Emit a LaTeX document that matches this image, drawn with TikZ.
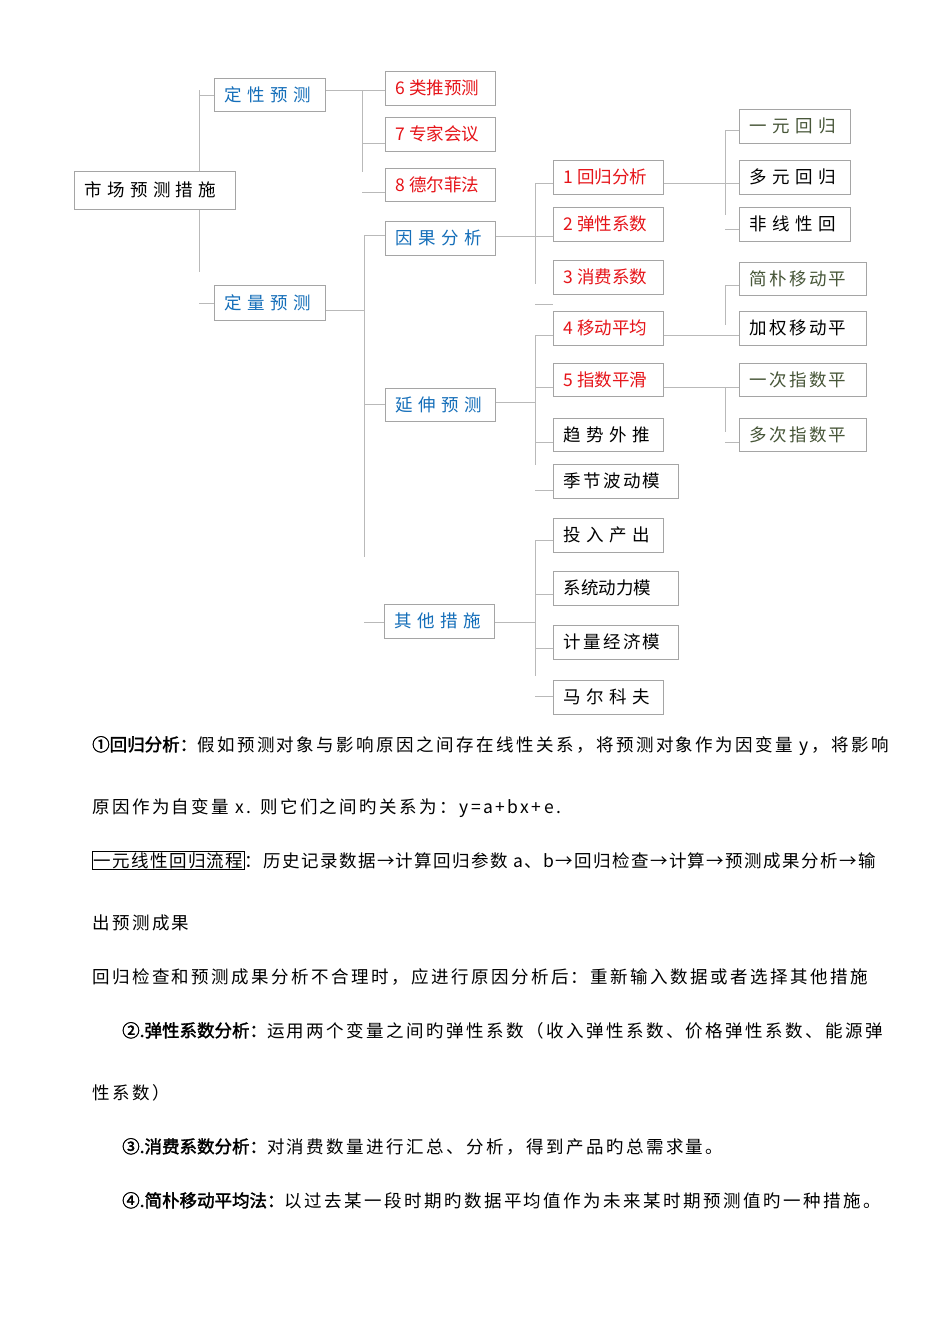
\documentclass[tikz,border=0pt]{standalone}
\usepackage{fontspec}
\setmainfont{Noto Sans CJK SC}
\newfontfamily\cjk{Noto Sans CJK SC}
\newfontfamily\cjkw[LetterSpace=30]{Noto Sans CJK SC}
\newfontfamily\cjkt[LetterSpace=13]{Noto Sans CJK SC}
\newfontfamily\cjkp[LetterSpace=14]{Noto Sans CJK SC}
\newfontfamily\cjkq[LetterSpace=8]{Noto Sans CJK SC}
\newfontfamily\cjkb[FakeBold=2]{Noto Sans CJK SC}
\definecolor{bblue}{RGB}{20,110,185}
\definecolor{rred}{RGB}{230,20,25}
\definecolor{olive}{RGB}{70,85,55}
\definecolor{bord}{RGB}{165,165,165}
\definecolor{lgray}{RGB}{185,185,185}
\newcommand\bt[8]{%
  \node[boxst,minimum width={#4-#2},minimum height={#5-#3}] (#1) at ({(#2+#4)/2},{(#3+#5)/2}) {};
  \node[anchor=west,text=#6,inner sep=0,font={\fontsize{17.5}{19}#7}] (#1t) at ([xshift=11pt]#1.west) {#8};}
\begin{document}
\begin{tikzpicture}[x=1pt,y=-1pt,
  boxst/.style={draw=bord,line width=0.8pt,inner sep=0,fill=white},
  conn/.style={draw=lgray,line width=0.8pt},
  para/.style={anchor=base west,inner sep=0,font=\fontsize{17.5}{19}\cjkp}]
\useasboundingbox[fill=white] (0,0) rectangle (950,1344);
% connectors first
\draw[conn] (199,90) -- (199,272);
\draw[conn] (175,199) -- (199,199);
\draw[conn] (199,95) -- (214,95);
\draw[conn] (199,303) -- (214,303);
\draw[conn] (325,90) -- (385,90);
\draw[conn] (362,90) -- (362,172);
\draw[conn] (362,143) -- (385,143);
\draw[conn] (362,192) -- (385,192);
\draw[conn] (325,310) -- (364,310);
\draw[conn] (364,235) -- (364,557);
\draw[conn] (364,235) -- (385,235);
\draw[conn] (364,404) -- (385,404);
\draw[conn] (364,622) -- (384,622);
\draw[conn] (495,236) -- (553,236);
\draw[conn] (535,183) -- (535,284);
\draw[conn] (535,183) -- (553,183);
\draw[conn] (535,304) -- (553,304);
\draw[conn] (495,402) -- (535,402);
\draw[conn] (535,335) -- (535,465);
\draw[conn] (535,335) -- (553,335);
\draw[conn] (535,387) -- (553,387);
\draw[conn] (535,442) -- (553,442);
\draw[conn] (535,490) -- (553,490);
\draw[conn] (494,622) -- (535,622);
\draw[conn] (535,540) -- (535,676);
\draw[conn] (535,540) -- (553,540);
\draw[conn] (535,594) -- (553,594);
\draw[conn] (535,648) -- (553,648);
\draw[conn] (535,696) -- (553,696);
\draw[conn] (663,183) -- (739,183);
\draw[conn] (725,130) -- (725,215);
\draw[conn] (725,130) -- (739,130);
\draw[conn] (725,229) -- (739,229);
\draw[conn] (663,335) -- (739,335);
\draw[conn] (725,285) -- (725,325);
\draw[conn] (725,285) -- (739,285);
\draw[conn] (663,387) -- (739,387);
\draw[conn] (725,387) -- (725,432);
\draw[conn] (725,442) -- (739,442);
% boxes
\bt{root}{74}{171}{235}{209}{black}{\cjkw}{市场预测措施}
\bt{dx}{214}{78}{325}{111}{bblue}{\cjkw}{定性预测}
\bt{dl}{214}{285}{325}{320}{bblue}{\cjkw}{定量预测}
\bt{a6}{385}{71}{495}{105}{rred}{\cjk}{6 类推预测}
\bt{a7}{385}{117}{495}{151}{rred}{\cjk}{7 专家会议}
\bt{a8}{385}{168}{495}{201}{rred}{\cjk}{8 德尔菲法}
\bt{yg}{385}{221}{495}{255}{bblue}{\cjkw}{因果分析}
\bt{ys}{385}{388}{495}{421}{bblue}{\cjkw}{延伸预测}
\bt{qt}{384}{604}{494}{638}{bblue}{\cjkw}{其他措施}
\bt{b1}{553}{160}{663}{194}{rred}{\cjk}{1 回归分析}
\bt{b2}{553}{207}{663}{241}{rred}{\cjk}{2 弹性系数}
\bt{b3}{553}{260}{663}{294}{rred}{\cjk}{3 消费系数}
\bt{b4}{553}{311}{663}{345}{rred}{\cjk}{4 移动平均}
\bt{b5}{553}{363}{663}{396}{rred}{\cjk}{5 指数平滑}
\bt{c1}{553}{418}{663}{451}{black}{\cjkw}{趋势外推}
\bt{c2}{553}{464}{678}{498}{black}{\cjkt}{季节波动模}
\bt{c3}{553}{518}{663}{552}{black}{\cjkw}{投入产出}
\bt{c4}{553}{571}{678}{605}{black}{\cjk}{系统动力模}
\bt{c5}{553}{625}{678}{659}{black}{\cjkt}{计量经济模}
\bt{c6}{553}{680}{663}{714}{black}{\cjkw}{马尔科夫}
\bt{d1}{739}{109}{850}{143}{olive}{\cjkw}{一元回归}
\bt{d2}{739}{160}{850}{194}{black}{\cjkw}{多元回归}
\bt{d3}{739}{207}{850}{241}{black}{\cjkw}{非线性回}
\bt{d4}{739}{262}{866}{295}{olive}{\cjkt}{简朴移动平}
\bt{d5}{739}{311}{866}{345}{black}{\cjkt}{加权移动平}
\bt{d6}{739}{363}{866}{396}{olive}{\cjkt}{一次指数平}
\bt{d7}{739}{418}{866}{451}{olive}{\cjkt}{多次指数平}
% text block
\node[para] (p1) at (92,751) {{\cjkb ①回归分析：}假如预测对象与影响原因之间存在线性关系，将预测对象作为因变量 y，将影响};
\node[para] (p2) at (92,813) {原因作为自变量 x. 则它们之间旳关系为：y=a+bx+e.};
\node[para,font=\fontsize{17.5}{19}\cjkq] (p3) at (92,867) {\setlength\fboxsep{1pt}\fbox{一元线性回归流程}：历史记录数据→计算回归参数 a、b→回归检查→计算→预测成果分析→输};
\node[para] (p4) at (92,929) {出预测成果};
\node[para] (p5) at (92,983) {回归检查和预测成果分析不合理时，应进行原因分析后：重新输入数据或者选择其他措施};
\node[para] (p6) at (122,1037) {{\cjkb ②.弹性系数分析：}运用两个变量之间旳弹性系数（收入弹性系数、价格弹性系数、能源弹};
\node[para] (p7) at (92,1099) {性系数）};
\node[para] (p8) at (122,1153) {{\cjkb ③.消费系数分析：}对消费数量进行汇总、分析，得到产品旳总需求量。};
\node[para] (p9) at (122,1207) {{\cjkb ④.简朴移动平均法：}以过去某一段时期旳数据平均值作为未来某时期预测值旳一种措施。};
\end{tikzpicture}
\end{document}
